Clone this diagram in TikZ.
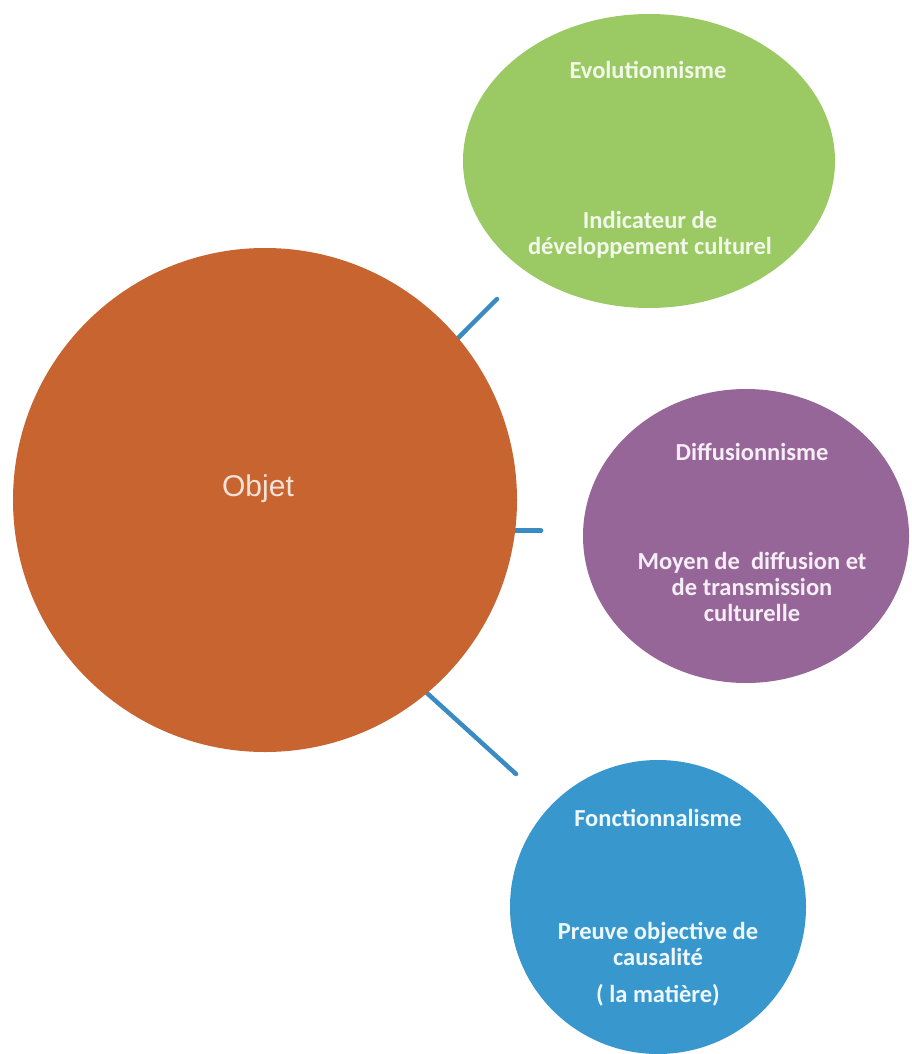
\documentclass[tikz,border=0pt]{standalone}
\usepackage{fontspec}
\newfontfamily\calfont{Carlito}
\newfontfamily\arifont{Liberation Sans}
\usetikzlibrary{shapes.geometric,backgrounds,calc}
\definecolor{orangeC}{HTML}{C8642F}
\definecolor{greenC}{HTML}{9BCA64}
\definecolor{purpleC}{HTML}{976698}
\definecolor{blueC}{HTML}{3898CD}
\definecolor{connC}{HTML}{3A8AC4}
\definecolor{objtxt}{HTML}{F4E2D8}
\definecolor{gtxt}{HTML}{F2F8EA}
\definecolor{ptxt}{HTML}{F6EEF6}
\definecolor{btxt}{HTML}{EEF7FC}
\tikzset{
  bubble/.style={ellipse, inner sep=0pt, draw=none},
  conn/.style={draw=connC, line width=4.5pt, line cap=round},
  btext/.style={font=\calfont\bfseries\fontsize{24.5}{26}\selectfont, align=center, inner sep=0pt},
}
\begin{document}
\begin{tikzpicture}[x=1pt,y=-1pt]
\useasboundingbox (0,0) rectangle (912,1054);
% shapes
\node[bubble, fill=orangeC, minimum width=504pt, minimum height=504pt] (main) at (265,500) {};
\node[bubble, fill=greenC, minimum width=372pt, minimum height=294pt] (evo) at (649,161) {};
\node[bubble, fill=purpleC, minimum width=326pt, minimum height=294pt] (dif) at (746,536) {};
\node[bubble, fill=blueC, minimum width=296pt, minimum height=294pt] (fon) at (658,907) {};
% free ends of connectors
\coordinate (c1e) at (497,299);
\coordinate (c2e) at (541,531);
\coordinate (c3e) at (516,774);
\begin{pgfonlayer}{background}
  \fill[white] (0,0) rectangle (912,1054);
  \draw[conn] ($(main.40)!-8pt!(c1e)$) -- (c1e);
  \draw[conn] ($(main.-7)+(-8,0)$) -- (main.-7 -| c2e);
  \draw[conn] ($(main.-50)!-8pt!(c3e)$) -- (c3e);
\end{pgfonlayer}
% texts
\node[font=\arifont\fontsize{30}{34}\selectfont, text=objtxt, inner sep=0pt] (objet) at (258,489) {Objet};
\node[btext, text=gtxt] (evoT) at (648,70) {Evolutionnisme};
\node[btext, text=gtxt] (evoD) at (650,235) {Indicateur de\\d\'eveloppement culturel};
\node[btext, text=ptxt] (difT) at (752,452) {Diffusionnisme};
\node[btext, text=ptxt] (difD) at (752,587) {Moyen de\ \ diffusion et\\de transmission\\culturelle};
\node[btext, text=btxt] (fonT) at (658,818) {Fonctionnalisme};
\node[btext, text=btxt] (fonD) at (658,944) {Preuve objective de\\causalit\'e};
\node[btext, text=btxt] (fonM) at (658,995) {( la mati\`ere)};
\end{tikzpicture}
\end{document}
